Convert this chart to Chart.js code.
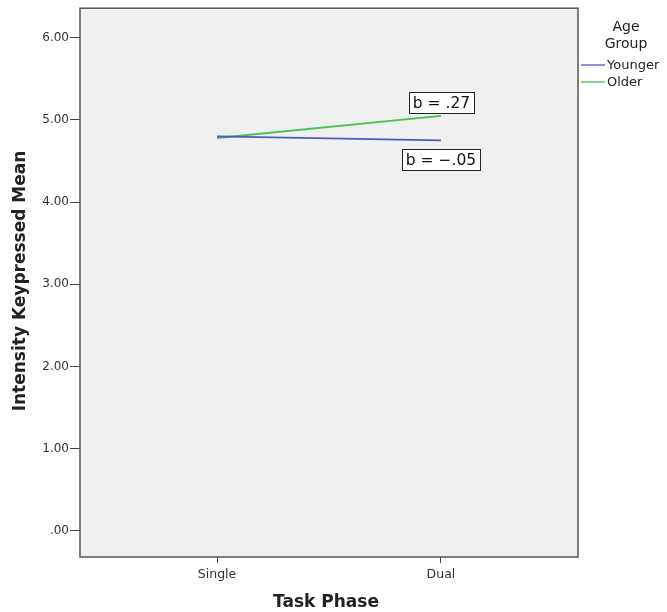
<!DOCTYPE html>
<html lang="en">
<head>
<meta charset="UTF-8">
<title>Intensity Keypressed Mean by Task Phase</title>
<script src="https://cdn.jsdelivr.net/npm/chart.js"></script>
<style>
  html, body { margin: 0; padding: 0; background: #fff; }
  #wrap { width: 667px; height: 612px; }
</style>
</head>
<body>
<div id="wrap"><canvas id="chart" width="667" height="612"></canvas></div>
<script>
// task phases on the x axis (0 = Single, 1 = Dual)
const phases = ["Single", "Dual"];
const groups = ["Younger", "Older"];
const younger = [4.80, 4.75];
const older = [4.78, 5.05];
const slopeLabels = ["b = \u2212.05", "b = .27"];
const yTicks = [0, 1, 2, 3, 4, 5, 6];
const colors = ["#4a5bbd", "#46c255"];

const FONT = "'DejaVu Sans', Verdana, sans-serif";

// grey plot panel with dark frame
const panel = {
  id: "panel",
  beforeDraw(chart) {
    const { ctx, chartArea: a } = chart;
    ctx.save();
    ctx.fillStyle = "#f0f0f0";
    ctx.fillRect(a.left, a.top, a.right - a.left, a.bottom - a.top);
    ctx.restore();
  },
  afterDraw(chart) {
    const { ctx, chartArea: a, scales } = chart;
    ctx.save();
    ctx.strokeStyle = "#555";
    ctx.lineWidth = 1.5;
    ctx.strokeRect(a.left, a.top, a.right - a.left, a.bottom - a.top);

    // slope boxes next to the Dual end of each line
    ctx.font = "15.5px " + FONT;
    ctx.textAlign = "center";
    ctx.textBaseline = "middle";
    const ends = [younger[1], older[1]];
    const shift = [19, -13];
    ends.forEach((v, i) => {
      const x = scales.x.getPixelForValue(1) + (i === 0 ? 0 : 0.5);
      const y = scales.y.getPixelForValue(v) + shift[i];
      const w = ctx.measureText(slopeLabels[i]).width + 8;
      const h = 21;
      ctx.fillStyle = "#fff";
      ctx.fillRect(x - w / 2, y - h / 2, w, h);
      ctx.strokeStyle = "#222";
      ctx.lineWidth = 1;
      ctx.strokeRect(Math.round(x - w / 2) + 0.5, Math.round(y - h / 2) + 0.5, Math.round(w), h);
      ctx.fillStyle = "#111";
      ctx.fillText(slopeLabels[i], x, y + 1);
    });

    // legend on the right
    const lx = a.right + 3;
    ctx.fillStyle = "#222";
    ctx.font = "14px " + FONT;
    ctx.textAlign = "center";
    ctx.fillText("Age", 626, 27);
    ctx.fillText("Group", 626, 44);
    ctx.font = "13px " + FONT;
    ctx.textAlign = "left";
    groups.forEach((g, i) => {
      const y = 65 + i * 17;
      ctx.strokeStyle = colors[i];
      ctx.lineWidth = 1.3;
      ctx.beginPath();
      ctx.moveTo(lx, y);
      ctx.lineTo(lx + 24, y);
      ctx.stroke();
      ctx.fillStyle = "#222";
      ctx.fillText(g, lx + 26, y + 1);
    });

    // axis titles
    ctx.font = "bold 17px " + FONT;
    ctx.fillStyle = "#222";
    ctx.textAlign = "center";
    ctx.fillText("Task Phase", 326, 603);
    ctx.translate(21, 281);
    ctx.rotate(-Math.PI / 2);
    ctx.fillText("Intensity Keypressed Mean", 0, 0);
    ctx.restore();
  }
};

new Chart(document.getElementById("chart"), {
  type: "line",
  data: {
    datasets: [
      {
        label: groups[0],
        data: younger.map((v, i) => ({ x: i, y: v })),
        borderColor: colors[0],
        borderWidth: 1.8,
        pointRadius: 0,
        tension: 0
      },
      {
        label: groups[1],
        data: older.map((v, i) => ({ x: i, y: v })),
        borderColor: colors[1],
        borderWidth: 1.8,
        pointRadius: 0,
        tension: 0
      }
    ]
  },
  options: {
    responsive: false,
    animation: false,
    layout: { padding: { left: 0, top: 8, right: 89, bottom: 0 } },
    plugins: {
      legend: { display: false },
      tooltip: { enabled: false }
    },
    scales: {
      x: {
        type: "linear",
        min: -0.612,
        max: 1.612,
        afterBuildTicks(scale) { scale.ticks = phases.map((p, i) => ({ value: i })); },
        afterFit(scale) { scale.height = 55; },
        grid: { drawOnChartArea: false, tickLength: 6, tickColor: "#444" },
        border: { display: false },
        ticks: {
          callback: (v) => phases[v],
          color: "#333",
          font: { family: FONT, size: 12.5 },
          maxRotation: 0,
          padding: 4
        }
      },
      y: {
        min: -0.32,
        max: 6.36,
        afterBuildTicks(scale) { scale.ticks = yTicks.map(v => ({ value: v })); },
        afterFit(scale) { scale.width = 80; },
        grid: { drawOnChartArea: false, tickLength: 10, tickColor: "#444" },
        border: { display: false },
        ticks: {
          callback: (v) => v === 0 ? ".00" : v.toFixed(2),
          color: "#333",
          font: { family: FONT, size: 12 },
          padding: 1
        }
      }
    }
  },
  plugins: [panel]
});
</script>
</body>
</html>
